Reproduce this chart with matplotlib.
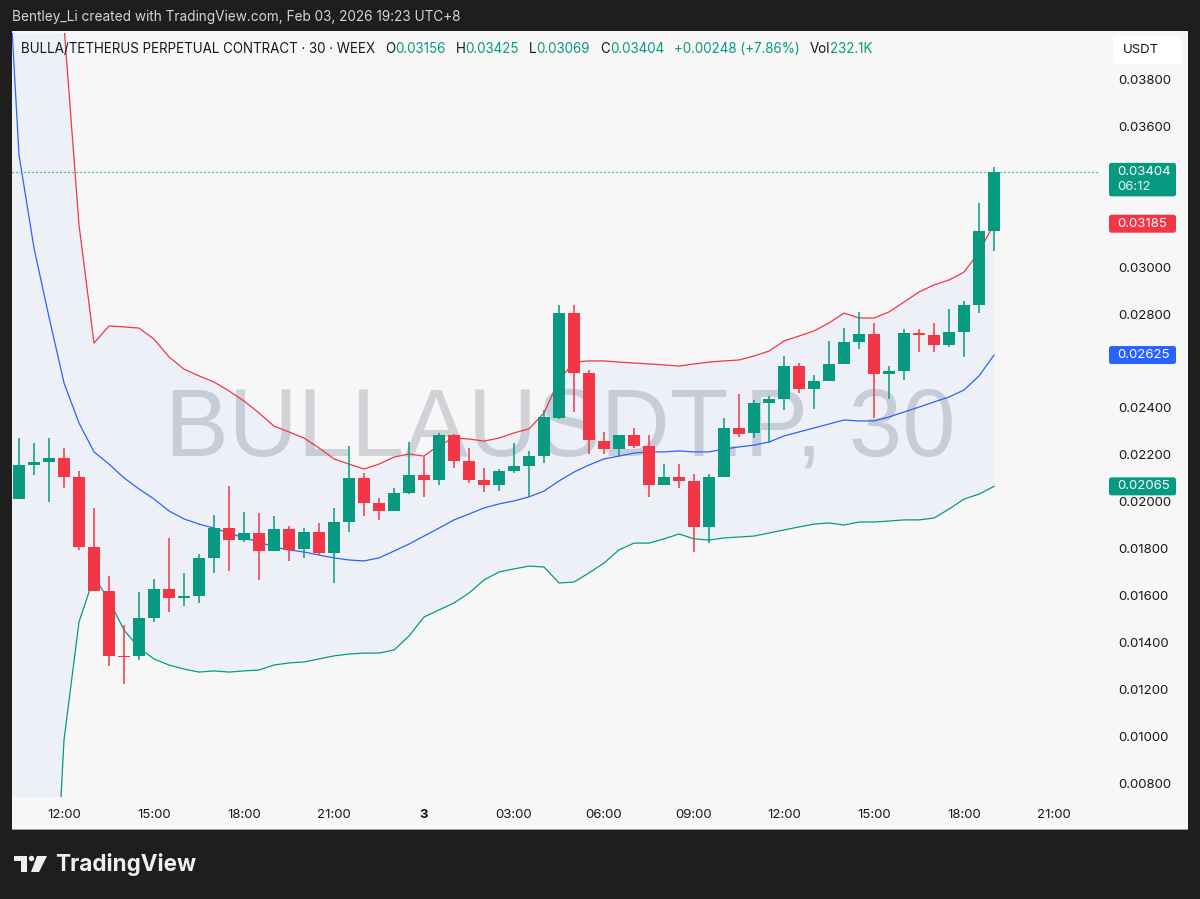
import matplotlib
matplotlib.use('Agg')
import matplotlib.pyplot as plt
import numpy as np
import pandas as pd
from matplotlib.patches import Rectangle, FancyBboxPatch, Polygon, Circle
from matplotlib.transforms import IdentityTransform

plt.rcParams['font.family'] = ['Inter', 'DejaVu Sans']

# ---------------- data ----------------
start_time = '2026-02-02 10:30'
opens = [0.02013, 0.02156, 0.02169, 0.02186, 0.02105, 0.01806, 0.01619, 0.01342, 0.01342, 0.01504,
         0.01627, 0.01589, 0.01597, 0.01760, 0.01887, 0.01836, 0.01866, 0.01789, 0.01883, 0.01798,
         0.01870, 0.01781, 0.01913, 0.02101, 0.01994, 0.01960, 0.02037, 0.02113, 0.02092, 0.02284,
         0.02173, 0.02092, 0.02071, 0.02130, 0.02152, 0.02194, 0.02357, 0.02804, 0.02548, 0.02258,
         0.02224, 0.02284, 0.02237, 0.02071, 0.02105, 0.02088, 0.01892, 0.02105, 0.02314, 0.02293,
         0.02420, 0.02438, 0.02578, 0.02480, 0.02514, 0.02587, 0.02680, 0.02715, 0.02544, 0.02557,
         0.02719, 0.02710, 0.02668, 0.02723, 0.02838, 0.03156]
highs = [0.02271, 0.02250, 0.02271, 0.02229, 0.02130, 0.01973, 0.01683, 0.01474, 0.01614, 0.01670,
         0.01845, 0.01696, 0.01777, 0.01943, 0.02067, 0.01956, 0.01951, 0.01939, 0.01896, 0.01887,
         0.01909, 0.01973, 0.02237, 0.02122, 0.02015, 0.02058, 0.02254, 0.02190, 0.02292, 0.02288,
         0.02229, 0.02143, 0.02139, 0.02250, 0.02216, 0.02391, 0.02838, 0.02838, 0.02561, 0.02297,
         0.02284, 0.02314, 0.02284, 0.02160, 0.02160, 0.02118, 0.02118, 0.02357, 0.02459, 0.02433,
         0.02450, 0.02621, 0.02591, 0.02540, 0.02685, 0.02740, 0.02809, 0.02762, 0.02578, 0.02736,
         0.02736, 0.02762, 0.02821, 0.02855, 0.03273, 0.03425]
lows = [0.02009, 0.02113, 0.02000, 0.02058, 0.01794, 0.01619, 0.01299, 0.01222, 0.01325, 0.01487,
        0.01529, 0.01555, 0.01568, 0.01696, 0.01704, 0.01828, 0.01666, 0.01789, 0.01747, 0.01760,
        0.01772, 0.01653, 0.01870, 0.01939, 0.01920, 0.01960, 0.02032, 0.02020, 0.02071, 0.02143,
        0.02079, 0.02041, 0.02045, 0.02122, 0.02020, 0.02165, 0.02352, 0.02382, 0.02203, 0.02203,
        0.02194, 0.02229, 0.02020, 0.02071, 0.02058, 0.01785, 0.01823, 0.02105, 0.02275, 0.02271,
        0.02250, 0.02390, 0.02463, 0.02395, 0.02514, 0.02587, 0.02651, 0.02357, 0.02438, 0.02519,
        0.02638, 0.02638, 0.02659, 0.02617, 0.02804, 0.03069]
closes = [0.02157, 0.02169, 0.02186, 0.02105, 0.01806, 0.01619, 0.01342, 0.01338, 0.01504, 0.01627,
          0.01589, 0.01597, 0.01760, 0.01887, 0.01836, 0.01866, 0.01789, 0.01883, 0.01794, 0.01870,
          0.01781, 0.01913, 0.02101, 0.01994, 0.01960, 0.02037, 0.02113, 0.02092, 0.02284, 0.02173,
          0.02092, 0.02071, 0.02130, 0.02152, 0.02194, 0.02361, 0.02804, 0.02548, 0.02263, 0.02224,
          0.02284, 0.02237, 0.02071, 0.02105, 0.02088, 0.01892, 0.02105, 0.02314, 0.02288, 0.02420,
          0.02438, 0.02578, 0.02480, 0.02514, 0.02587, 0.02680, 0.02715, 0.02544, 0.02557, 0.02719,
          0.02710, 0.02668, 0.02723, 0.02838, 0.03156, 0.03404]

# Bollinger bands: one extra value before the first visible candle
bb_middle = [0.04625, 0.03478, 0.03081, 0.02787, 0.02506, 0.02335, 0.02212, 0.02160, 0.02101, 0.02054,
             0.02011, 0.01960, 0.01926, 0.01904, 0.01887, 0.01866, 0.01845, 0.01828, 0.01806, 0.01794,
             0.01785, 0.01772, 0.01760, 0.01751, 0.01747, 0.01760, 0.01789, 0.01819, 0.01853, 0.01887,
             0.01922, 0.01947, 0.01973, 0.01990, 0.02003, 0.02020, 0.02045, 0.02088, 0.02126, 0.02156,
             0.02182, 0.02194, 0.02207, 0.02212, 0.02212, 0.02216, 0.02212, 0.02212, 0.02224, 0.02233,
             0.02241, 0.02254, 0.02280, 0.02297, 0.02314, 0.02331, 0.02348, 0.02344, 0.02344, 0.02361,
             0.02382, 0.02403, 0.02425, 0.02446, 0.02476, 0.02536, 0.02625]
bb_upper = [0.10450, 0.07860, 0.06760, 0.05804, 0.04029, 0.03180, 0.02676, 0.02749, 0.02745, 0.02740,
            0.02693, 0.02617, 0.02565, 0.02536, 0.02510, 0.02472, 0.02429, 0.02378, 0.02322, 0.02297,
            0.02271, 0.02229, 0.02182, 0.02160, 0.02139, 0.02160, 0.02190, 0.02203, 0.02194, 0.02241,
            0.02271, 0.02267, 0.02258, 0.02271, 0.02293, 0.02310, 0.02378, 0.02519, 0.02595, 0.02600,
            0.02600, 0.02595, 0.02591, 0.02587, 0.02583, 0.02578, 0.02587, 0.02595, 0.02600, 0.02604,
            0.02621, 0.02642, 0.02685, 0.02706, 0.02728, 0.02762, 0.02804, 0.02783, 0.02783, 0.02809,
            0.02851, 0.02894, 0.02924, 0.02945, 0.02979, 0.03064, 0.03185]
bb_lower = [-0.01200, -0.00904, -0.00598, -0.00230, 0.00983, 0.01487, 0.01678, 0.01580, 0.01452, 0.01376,
            0.01329, 0.01303, 0.01286, 0.01273, 0.01278, 0.01273, 0.01278, 0.01282, 0.01303, 0.01312,
            0.01316, 0.01329, 0.01342, 0.01350, 0.01354, 0.01354, 0.01367, 0.01427, 0.01508, 0.01538,
            0.01568, 0.01610, 0.01666, 0.01700, 0.01713, 0.01725, 0.01721, 0.01653, 0.01657, 0.01696,
            0.01738, 0.01794, 0.01823, 0.01823, 0.01841, 0.01862, 0.01841, 0.01836, 0.01845, 0.01849,
            0.01853, 0.01866, 0.01879, 0.01892, 0.01904, 0.01909, 0.01900, 0.01913, 0.01913, 0.01917,
            0.01922, 0.01922, 0.01930, 0.01968, 0.02011, 0.02032, 0.02065]

tick_times = ['2026-02-02 12:00', '2026-02-02 15:00', '2026-02-02 18:00', '2026-02-02 21:00',
              '2026-02-03 00:00', '2026-02-03 03:00', '2026-02-03 06:00', '2026-02-03 09:00',
              '2026-02-03 12:00', '2026-02-03 15:00', '2026-02-03 18:00', '2026-02-03 21:00']
tick_labels = ['12:00', '15:00', '18:00', '21:00', '3', '03:00', '06:00', '09:00',
               '12:00', '15:00', '18:00', '21:00']
price_ticks = [0.008, 0.010, 0.012, 0.014, 0.016, 0.018, 0.020, 0.022, 0.024, 0.026,
               0.028, 0.030, 0.032, 0.034, 0.036, 0.038]

title_text = 'Bentley_Li created with TradingView.com, Feb 03, 2026 19:23 UTC+8'
symbol_desc = 'BULLA/TETHERUS PERPETUAL CONTRACT · 30 · WEEX'
change_text = '+0.00248 (+7.86%)'
volume_text = '232.1K'
countdown = '06:12'
watermark = 'BULLAUSDT.P, 30'

GREEN = '#089981'
RED = '#f23645'
BLUE = '#2962ff'
DARK = '#131722'

# ---------------- figure ----------------
W, H = 1200, 899
fig = plt.figure(figsize=(W / 100, H / 100), dpi=100, facecolor='#1e1e1e')
renderer = fig.canvas.get_renderer()


def fx(px):
    return px / W


def fy(py):
    return 1 - py / H


panel = Rectangle((fx(12), fy(829)), fx(1176), 798 / H, transform=fig.transFigure,
                  facecolor='#f7f7f7', edgecolor='none', zorder=-5)
fig.add_artist(panel)
fig.add_artist(Rectangle((fx(12), fy(830)), fx(1176), 1.2 / H, transform=fig.transFigure,
                         facecolor='#a0a0a0', edgecolor='none', zorder=-4))

ax = fig.add_axes([fx(12), fy(797), fx(1086), 764 / H])
ax.set_facecolor('none')
for s in ax.spines.values():
    s.set_visible(False)

times = pd.date_range(start_time, periods=len(opens), freq='30min')
xi = np.arange(len(opens))
bx = np.arange(-1, len(opens))

ax.set_xlim(-0.467, 71.93)
ax.set_ylim(0.007403, 0.039983)

# watermark
wm = ax.text(0.5046, 0.4476, watermark, transform=ax.transAxes, ha='center', va='baseline',
             fontsize=66, color='#cfd2d7', family='Liberation Sans', zorder=0.5)
w0 = wm.get_window_extent(renderer).width
wm.set_fontsize(66 * 790 / w0)

# bands
ax.fill_between(bx, bb_upper, bb_lower, color=BLUE, alpha=0.045, lw=0, zorder=1)
ax.plot(bx, bb_upper, color=RED, lw=0.9, zorder=2)
ax.plot(bx, bb_middle, color=BLUE, lw=0.9, zorder=2)
ax.plot(bx, bb_lower, color=GREEN, lw=0.9, zorder=2)

# candles
o = np.array(opens); h = np.array(highs); l = np.array(lows); c = np.array(closes)
cols = np.where(c >= o, GREEN, RED)
ax.vlines(xi, l, h, colors=cols, lw=1.1, zorder=3)
body_lo = np.minimum(o, c)
body_h = np.maximum(np.abs(c - o), 0.00004)
ax.bar(xi, body_h, bottom=body_lo, width=0.74, color=cols, lw=0, zorder=4)

# last price dotted line
ax.axhline(closes[-1], color=GREEN, lw=0.9, ls=(0, (1, 2.2)), zorder=2.5)

# price-scale labels (boxes) — tick labels colliding with them are hidden, as in TradingView
box_labels = [(closes[-1], GREEN, [f'{closes[-1]:.5f}', countdown]),
              (bb_upper[-1], RED, [f'{bb_upper[-1]:.5f}']),
              (bb_middle[-1], BLUE, [f'{bb_middle[-1]:.5f}']),
              (bb_lower[-1], GREEN, [f'{bb_lower[-1]:.5f}'])]


def ypix(p):
    return ax.transData.transform((0, p))[1]


box_spans = []
for value, color, lines in box_labels:
    yc = ypix(value)
    if len(lines) == 1:
        box_spans.append((yc - 9, yc + 9))
    else:
        box_spans.append((yc - 24, yc + 9.5))

shown_ticks = []
for t in price_ticks:
    yt = ypix(t)
    if all(yt + 5 < lo or yt - 5 > hi for lo, hi in box_spans):
        shown_ticks.append(t)

# axes ticks
tick_pos = [(pd.Timestamp(t) - times[0]) / pd.Timedelta('30min') for t in tick_times]
ax.set_xticks(tick_pos)
ax.set_xticklabels(tick_labels)
for lab, txt in zip(ax.get_xticklabels(), tick_labels):
    if txt == '3':
        lab.set_fontweight('bold')
ax.yaxis.tick_right()
ax.set_yticks(shown_ticks)
ax.set_yticklabels([f'{v:.5f}' for v in shown_ticks])
ax.tick_params(axis='both', length=0, labelsize=9.5, colors=DARK)
ax.tick_params(axis='x', pad=9)
ax.tick_params(axis='y', pad=14.5)

for (value, color, lines), (bot, top) in zip(box_labels, box_spans):
    yc = ypix(value)
    fig.add_artist(FancyBboxPatch((1109, bot), 67, top - bot,
                                  boxstyle='round,pad=0,rounding_size=2.5',
                                  transform=IdentityTransform(), facecolor=color,
                                  edgecolor='none', zorder=6))
    fig.text(1117 / W, yc / H, lines[0], color='white', fontsize=9.5, ha='left',
             va='center', zorder=7)
    if len(lines) > 1:
        fig.text(1117 / W, (yc - 15) / H, lines[1], color='#e6f4f1', fontsize=9.5,
                 ha='left', va='center', zorder=7)

# USDT box
fig.add_artist(FancyBboxPatch((1113, H - 64), 69, 28, boxstyle='round,pad=0,rounding_size=4',
                              transform=IdentityTransform(), facecolor='white',
                              edgecolor='none', zorder=6))
fig.text(fx(1141), fy(50), 'USDT', color=DARK, fontsize=9.5, ha='center', va='center', zorder=7)


# ---------------- sequential texts ----------------
def seq_text(pieces, x0, y_img, right, fs0, **kw):
    arts = [fig.text(0, 0, s, color=col, fontsize=fs0, ha='left', va='center', **kw)
            for s, col, g in pieces]
    gaps = sum(g for _, _, g in pieces)

    def layout(fs):
        x = x0
        for a, (s, col, g) in zip(arts, pieces):
            a.set_fontsize(fs)
            x += g
            a.set_position((x / W, fy(y_img)))
            x += a.get_window_extent(renderer).width
        return x

    r = layout(fs0)
    fs = fs0 * (right - x0 - gaps) / (r - x0 - gaps)
    layout(fs)


ohlc_vals = [opens[-1], highs[-1], lows[-1], closes[-1]]
header = [(symbol_desc, DARK, 0)]
for letter, v in zip('OHLC', ohlc_vals):
    header.append((letter, DARK, 10))
    header.append((f'{v:.5f}', GREEN, 0))
header.append((change_text, GREEN, 10))
header.append(('Vol', DARK, 10))
header.append((volume_text, GREEN, 0))
seq_text(header, 21, 49, 883, 10)

seq_text([(title_text, '#d1d4dc', 0)], 12, 17, 463, 10)

# TradingView logo
logo_col = '#f0f0f0'
fig.add_artist(Polygon([(14, H - 856), (27, H - 856), (27, H - 872), (21, H - 872),
                        (21, H - 861), (14, H - 861)], closed=True,
                       transform=IdentityTransform(), facecolor=logo_col, edgecolor='none'))
fig.add_artist(Circle((31.5, H - 858.5), 2.7, transform=IdentityTransform(),
                      facecolor=logo_col, edgecolor='none'))
fig.add_artist(Polygon([(37, H - 856), (47, H - 856), (39, H - 872), (31, H - 872)], closed=True,
                       transform=IdentityTransform(), facecolor=logo_col, edgecolor='none'))
seq_text([('TradingView', logo_col, 0)], 55, 864, 196, 15, fontweight='bold')

fig.savefig('out.png', dpi=100, facecolor=fig.get_facecolor())
